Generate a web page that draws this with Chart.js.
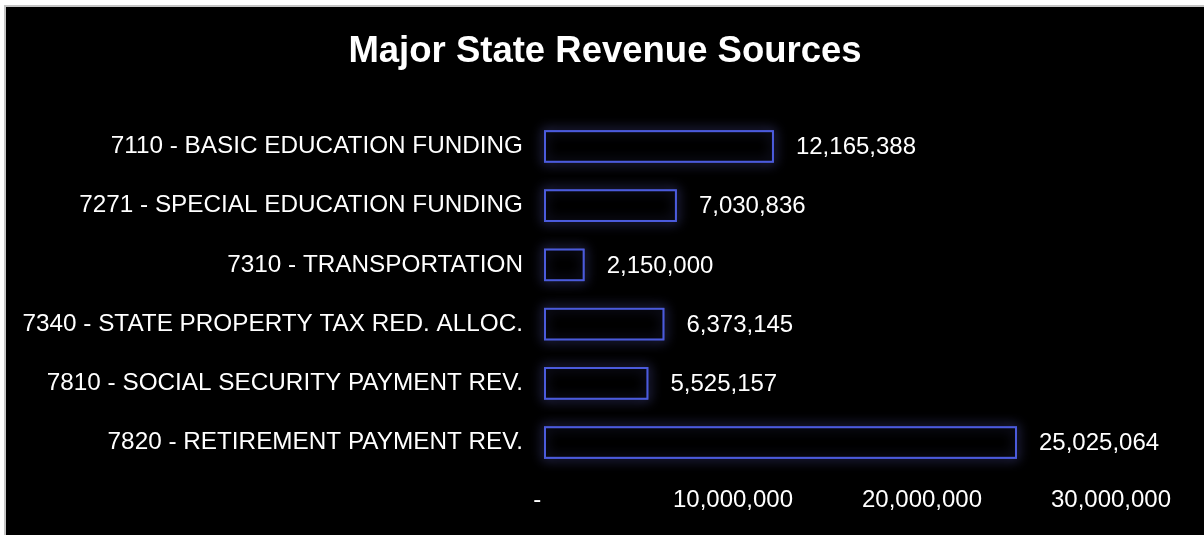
<!DOCTYPE html>
<html>
<head>
<meta charset="utf-8">
<title>Major State Revenue Sources</title>
<script src="https://cdn.jsdelivr.net/npm/chart.js@4"></script>
<style>
    html, body { margin: 0; padding: 0; background: #ffffff; }
    #frame {
        position: absolute;
        left: 4px;
        top: 5px;
        border-left: 2px solid #c4c4c4;
        border-top: 2px solid #c4c4c4;
        background: #000000;
        width: 1198px;
        height: 528px;
    }
    #revenueChart { display: block; }
</style>
</head>
<body>
<div id="frame"><canvas id="revenueChart" width="1198" height="528"></canvas></div>
<script>
const categories = [
    '7110 - BASIC EDUCATION FUNDING',
    '7271 - SPECIAL EDUCATION FUNDING',
    '7310 - TRANSPORTATION',
    '7340 - STATE PROPERTY TAX RED. ALLOC.',
    '7810 - SOCIAL SECURITY PAYMENT REV.',
    '7820 - RETIREMENT PAYMENT REV.'
];
const revenue = [12165388, 7030836, 2150000, 6373145, 5525157, 25025064];
const tickValues = [0, 10000000, 20000000, 30000000];

const fontFamily = "'Liberation Sans', Arial, Helvetica, sans-serif";

// soft blue halo round each bar, drawn under the bar itself
const barGlow = {
    id: 'barGlow',
    beforeDatasetsDraw(chart) {
        const ctx = chart.ctx;
        chart.getDatasetMeta(0).data.forEach(function (bar) {
            const p = bar.getProps(['x', 'y', 'base', 'height'], true);
            ctx.save();
            ctx.shadowColor = 'rgba(125, 130, 255, 1)';
            ctx.shadowBlur = 12;
            ctx.strokeStyle = 'rgba(75, 91, 220, 0.95)';
            ctx.lineWidth = 2;
            ctx.strokeRect(p.base + 1, p.y - p.height / 2 + 1, p.x - p.base - 2, p.height - 2);
            ctx.restore();
        });
    }
};

// value text to the right of each bar
const barValues = {
    id: 'barValues',
    afterDatasetsDraw(chart) {
        const ctx = chart.ctx;
        const values = chart.data.datasets[0].data;
        ctx.save();
        ctx.font = '24px ' + fontFamily;
        ctx.fillStyle = '#ffffff';
        ctx.textAlign = 'left';
        ctx.textBaseline = 'middle';
        chart.getDatasetMeta(0).data.forEach(function (bar, i) {
            const p = bar.getProps(['x', 'y'], true);
            ctx.fillText(values[i].toLocaleString('en-US'), p.x + 22, p.y + 1);
        });
        ctx.restore();
    }
};

new Chart(document.getElementById('revenueChart').getContext('2d'), {
    type: 'bar',
    data: {
        labels: categories,
        datasets: [{
            label: 'Revenue',
            data: revenue,
            backgroundColor: 'rgba(0, 0, 0, 0.6)',
            borderColor: '#4b5bdc',
            borderWidth: 2,
            borderSkipped: false,
            categoryPercentage: 1,
            barPercentage: 0.55
        }]
    },
    options: {
        indexAxis: 'y',
        responsive: false,
        animation: false,
        events: [],
        layout: {
            padding: { left: 0, right: 0, top: 0, bottom: 6 }
        },
        plugins: {
            legend: { display: false },
            tooltip: { enabled: false },
            title: {
                display: true,
                text: 'Major State Revenue Sources',
                color: '#ffffff',
                font: { family: fontFamily, size: 36.5, weight: 'bold', lineHeight: 1.2 },
                padding: { top: 23, bottom: 43 }
            }
        },
        scales: {
            x: {
                min: 0,
                max: 30000000,
                grid: { display: false, drawTicks: false },
                border: { display: false },
                afterBuildTicks(scale) {
                    scale.ticks = tickValues.map(function (v) { return { value: v }; });
                },
                afterFit(scale) {
                    scale.paddingRight = 93;
                },
                ticks: {
                    color: '#ffffff',
                    padding: 14,
                    maxRotation: 0,
                    font: { family: fontFamily, size: 24 },
                    callback: function (value) {
                        return value === 0 ? '-  ' : value.toLocaleString('en-US');
                    }
                }
            },
            y: {
                grid: { display: false, drawTicks: false },
                border: { display: false },
                afterFit(scale) {
                    scale.width = 538;
                },
                ticks: {
                    color: '#ffffff',
                    padding: 21,
                    font: { family: fontFamily, size: 24.3 }
                }
            }
        }
    },
    plugins: [barGlow, barValues]
});
</script>
</body>
</html>
